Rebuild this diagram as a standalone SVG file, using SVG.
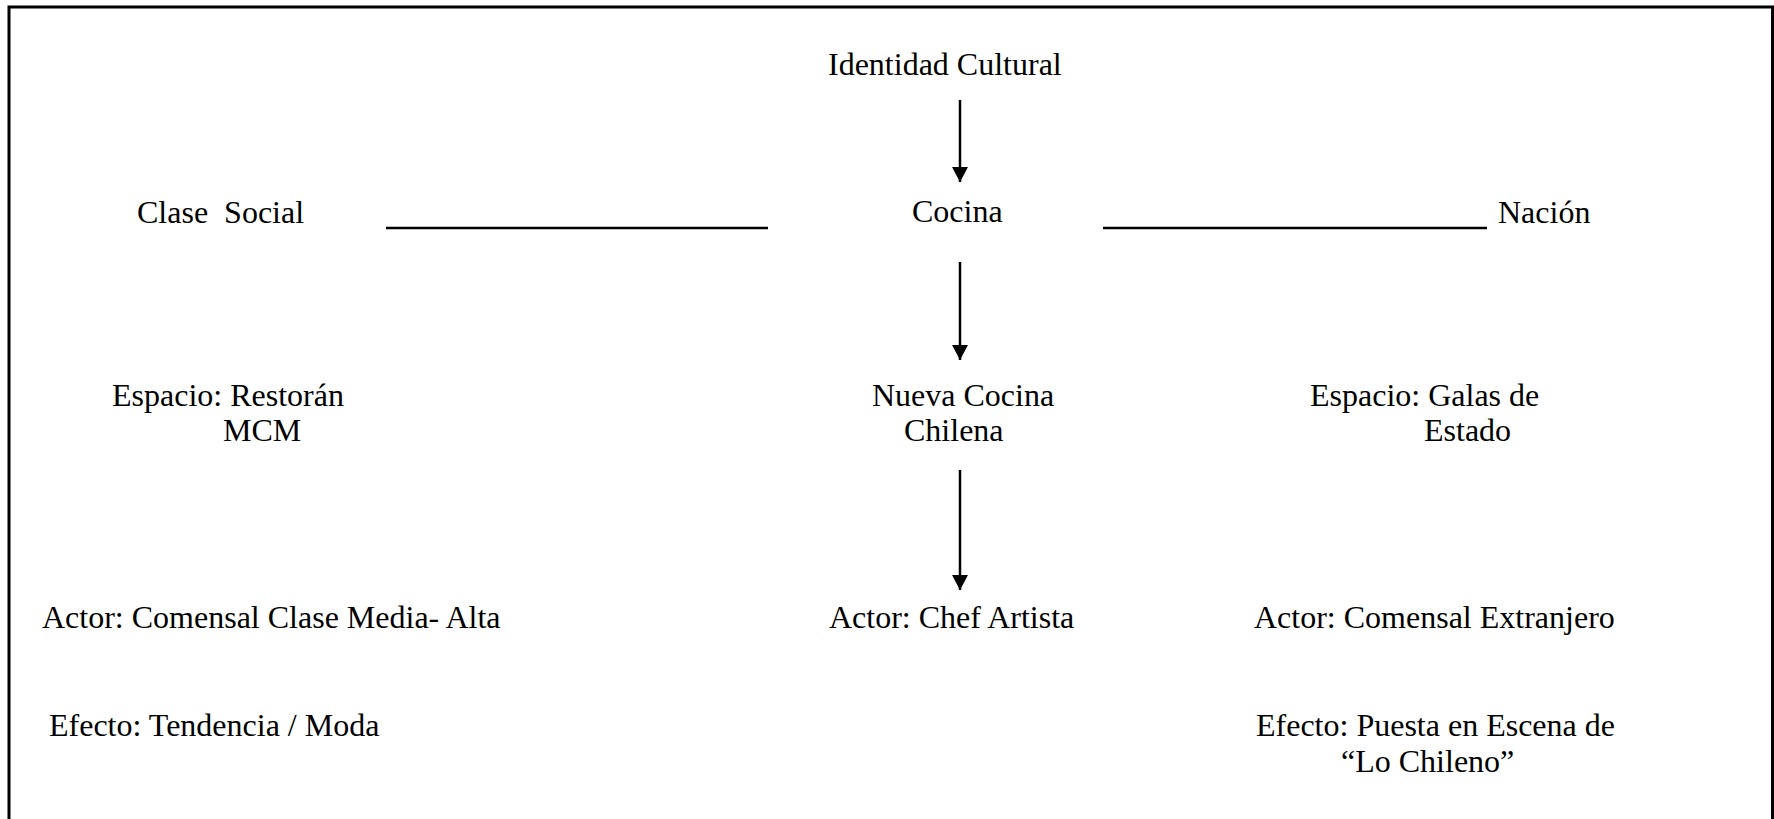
<svg xmlns="http://www.w3.org/2000/svg" width="1774" height="819" viewBox="0 0 1774 819">
<style>
text{font-family:"Liberation Serif","Times New Roman",serif;font-size:32px;fill:#000;white-space:pre}
.ln{stroke:#000;stroke-width:2.5;fill:none}
.hl{stroke:#000;stroke-width:2.5;fill:none}
</style>
<defs>
<marker id="ah" markerUnits="userSpaceOnUse" markerWidth="16" markerHeight="16" viewBox="0 0 16 16" refX="15" refY="8" orient="auto">
<path d="M0,0 L15,8 L0,16 Z" fill="#000"/>
</marker>
</defs>
<rect x="9" y="7" width="1763.5" height="830" fill="#fff" stroke="#000" stroke-width="3"/>
<g id="connectors">
<line class="ln" x1="960" y1="100" x2="960" y2="182" marker-end="url(#ah)"/>
<line class="ln" x1="960" y1="262" x2="960" y2="360" marker-end="url(#ah)"/>
<line class="ln" x1="960" y1="470" x2="960" y2="590" marker-end="url(#ah)"/>
<line class="hl" x1="386" y1="228" x2="768" y2="228"/>
<line class="hl" x1="1103" y1="228" x2="1487" y2="228"/>
</g>
<g id="identidad"><text x="828" y="75">Identidad Cultural</text></g>
<g id="cocina"><text x="912" y="222">Cocina</text></g>
<g id="clase"><text x="137" y="223">Clase  Social</text></g>
<g id="nacion"><text x="1498" y="223">Nación</text></g>
<g id="espacio-restoran"><text x="112" y="406">Espacio: Restorán</text><text x="223" y="441">MCM</text></g>
<g id="nueva-cocina"><text x="872" y="406">Nueva Cocina</text><text x="904" y="441">Chilena</text></g>
<g id="espacio-galas"><text x="1310" y="406">Espacio: Galas de</text><text x="1424" y="441">Estado</text></g>
<g id="actor-comensal"><text x="42" y="628">Actor: Comensal Clase Media- Alta</text></g>
<g id="actor-chef"><text x="829" y="628">Actor: Chef Artista</text></g>
<g id="actor-extranjero"><text x="1254" y="628">Actor: Comensal Extranjero</text></g>
<g id="efecto-tendencia"><text x="49" y="736">Efecto: Tendencia / Moda</text></g>
<g id="efecto-puesta"><text x="1256" y="736">Efecto: Puesta en Escena de</text><text x="1341" y="772">“Lo Chileno”</text></g>
</svg>
